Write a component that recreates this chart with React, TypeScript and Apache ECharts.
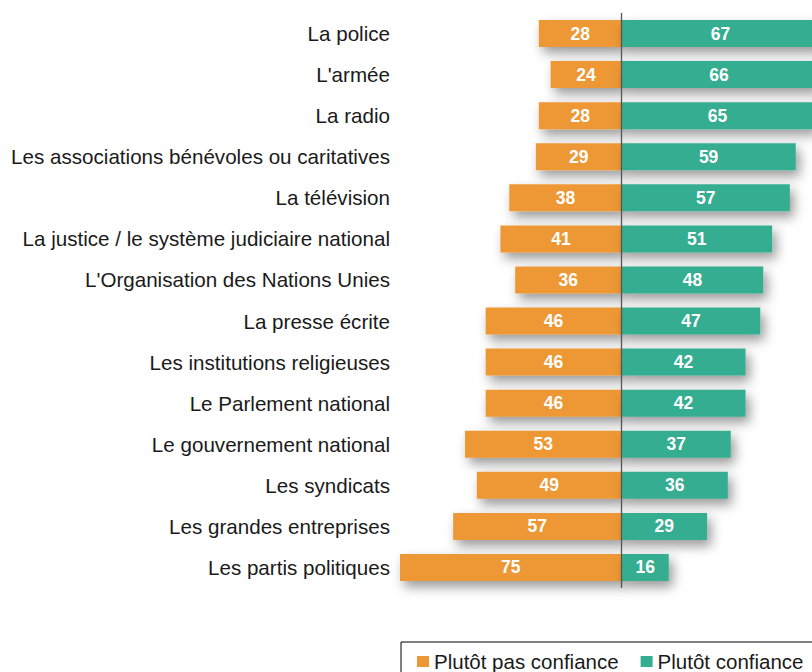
import React, { useEffect, useRef } from "react";
import * as echarts from "echarts";

const categories = [
  "La police",
  "L'armée",
  "La radio",
  "Les associations bénévoles ou caritatives",
  "La télévision",
  "La justice / le système judiciaire national",
  "L'Organisation des Nations Unies",
  "La presse écrite",
  "Les institutions religieuses",
  "Le Parlement national",
  "Le gouvernement national",
  "Les syndicats",
  "Les grandes entreprises",
  "Les partis politiques",
];

const pasConfiance = [28, 24, 28, 29, 38, 41, 36, 46, 46, 46, 53, 49, 57, 75];
const confiance = [67, 66, 65, 59, 57, 51, 48, 47, 42, 42, 37, 36, 29, 16];

const seriesNames = ["Plutôt pas confiance", "Plutôt confiance"];
const ORANGE = "#ED9836";
const TEAL = "#35AD90";
const FONT = "'Liberation Sans', Arial, sans-serif";

export default function App() {
  const ref = useRef<HTMLDivElement>(null);
  useEffect(() => {
    if (!ref.current) return;
    const chart = echarts.init(ref.current, undefined, { renderer: "svg" });
    const shadow = {
      shadowBlur: 12,
      shadowOffsetX: 4,
      shadowOffsetY: 6,
      shadowColor: "rgba(0,0,0,0.4)",
    };
    const label = {
      show: true,
      position: "inside" as const,
      color: "#ffffff",
      fontFamily: FONT,
      fontWeight: "bold" as const,
      fontSize: 17.5,
      formatter: (p: any) => String(Math.abs(p.value)),
    };
    chart.setOption({
      animation: false,
      backgroundColor: "#ffffff",
      textStyle: { fontFamily: FONT },
      grid: { left: 400, top: 13, width: 443, height: 575, containLabel: false },
      xAxis: {
        type: "value",
        min: -75,
        max: 75,
        show: false,
      },
      yAxis: {
        type: "category",
        data: categories,
        inverse: true,
        axisLine: { show: false, onZero: false },
        axisTick: { show: false },
        splitLine: { show: false },
        axisLabel: {
          margin: 10,
          fontSize: 20.6,
          color: "#1a1a1a",
          fontFamily: FONT,
        },
      },
      legend: {
        left: 401,
        top: 642,
        orient: "horizontal",
        data: seriesNames,
        icon: "rect",
        itemWidth: 12,
        itemHeight: 11,
        itemGap: 22,
        borderColor: "#000000",
        borderWidth: 1,
        padding: [9, 16, 9, 16],
        textStyle: { fontSize: 20.5, color: "#1a1a1a", fontFamily: FONT },
      },
      series: [
        {
          name: seriesNames[0],
          type: "bar",
          stack: "total",
          barWidth: 27,
          data: pasConfiance.map((v) => -v),
          itemStyle: { color: ORANGE, ...shadow },
          label,
          z: 2,
        },
        {
          name: seriesNames[1],
          type: "bar",
          stack: "total",
          barWidth: 27,
          data: confiance,
          itemStyle: { color: TEAL, ...shadow },
          label,
          z: 2,
          markLine: {
            silent: true,
            symbol: "none",
            label: { show: false },
            lineStyle: { color: "#555555", width: 1.3, type: "solid" },
            data: [{ xAxis: 0 }],
            z: 5,
          },
        },
      ],
    });
    return () => chart.dispose();
  }, []);
  return (
    <div
      style={{ position: "fixed", left: 0, top: 0, width: 812, height: 672, overflow: "hidden", background: "#fff" }}
    >
      <div ref={ref} style={{ width: 870, height: 672 }} />
    </div>
  );
}
